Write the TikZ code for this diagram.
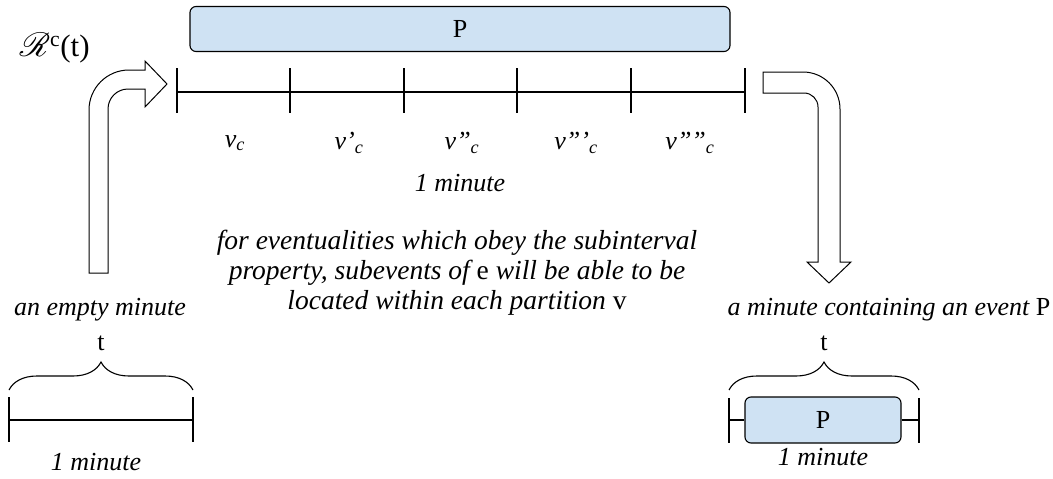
\documentclass[tikz,border=0pt]{standalone}
\usepackage{fontspec}
\setmainfont{LiberationSerif}[Extension=.ttf,UprightFont=*-Regular,
  ItalicFont=*-Italic,BoldFont=*-Bold,BoldItalicFont=*-BoldItalic]
\usepackage{mathrsfs}
\usetikzlibrary{decorations.pathreplacing}

\definecolor{eventblue}{RGB}{207,226,243}

\newcommand{\vpart}[1]{\textit{v#1\textsubscript{c}}}

\begin{document}
\begin{tikzpicture}[x=1pt,y=-1pt,line width=1.1pt,
    txt/.style={font=\fontsize{26}{30}\selectfont},
    lbl/.style={font=\fontsize{26}{30}\selectfont\itshape},
    eventbox/.style={draw,fill=eventblue,rounded corners=6pt,inner sep=0pt,
      font=\fontsize{26}{30}\selectfont},
    bendarrow/.style={draw,fill=white,line width=1pt},
    curly/.style={decorate,decoration={brace,amplitude=28pt}}]
    \useasboundingbox (0,0) rectangle (1053,479);
    % Event P spanning the whole minute
    \node[font=\fontsize{31}{36}\selectfont,anchor=base west,inner sep=0pt] (rct) at (19,56)
      {\scalebox{1.35}{$\mathscr{R}$}\textsuperscript{c}(t)};
    \node[eventbox,minimum width=540pt,minimum height=45pt] (ptop) at (460,29) {P};
    % Partitioned minute
    \foreach \x [count=\i from 0] in {177,290,404,517,631,745} {
      \coordinate (t\i) at (\x,92);
      \draw (\x,68) -- (\x,113);
    }
    \draw (t0) -- (t5);
    \foreach \p/\x [count=\i] in {/233,'/347,''/460,'''/574,''''/688} {
      \node[lbl] (vlab\i) at (\x+2,143) {\vpart{\p}};
    }
    \node[lbl] (mintop) at (460,183) {1 minute};
    \node[lbl,font=\fontsize{27.5}{30}\selectfont\itshape,align=center] (note) at (457,273)
      {for eventualities which obey the subinterval\\
       property, subevents of {\upshape e} will be able to be\\
       located within each partition {\upshape v}};
    % Block arrows in and out
    \draw[bendarrow] (89,273) -- (89,110) arc[start angle=180,end angle=270,radius=40]
      -- (145,70) -- (145,61) -- (167,84) -- (145,107) -- (145,89) -- (128,89)
      arc[start angle=270,end angle=180,radius=20] -- (108,273) -- cycle;
    \draw[bendarrow] (763,72) -- (803,72) arc[start angle=270,end angle=360,radius=37]
      -- (840,262) -- (851,262) -- (829,283) -- (807,262) -- (818,262) -- (818,107)
      arc[start angle=0,end angle=-90,radius=14] -- (763,93) -- cycle;
    % Empty minute
    \node[lbl] (emptycap) at (100,310) {an empty minute};
    \node[txt] (tleft) at (101,343) {t};
    \draw[curly] (9,390) -- (193,390);
    \coordinate (la) at (9,420);
    \coordinate (lb) at (193,420);
    \draw (la) -- (lb);
    \draw (9,397) -- (9,442);
    \draw (193,397) -- (193,442);
    \node[lbl] (minleft) at (96,462) {1 minute};
    % Minute containing P
    \node[lbl] (eventcap) at (889,310) {a minute containing an event {\upshape P}};
    \node[txt] (tright) at (824,343) {t};
    \draw[curly] (729,390) -- (919,390);
    \node[eventbox,minimum width=156pt,minimum height=46pt] (pbot) at (823,420) {P};
    \coordinate (ra) at (729,420);
    \coordinate (rb) at (919,420);
    \draw (ra) -- (pbot.west);
    \draw (pbot.east) -- (rb);
    \draw (729,398) -- (729,443);
    \draw (919,398) -- (919,443);
    \node[lbl] (minright) at (823,457) {1 minute};
\end{tikzpicture}
\end{document}
